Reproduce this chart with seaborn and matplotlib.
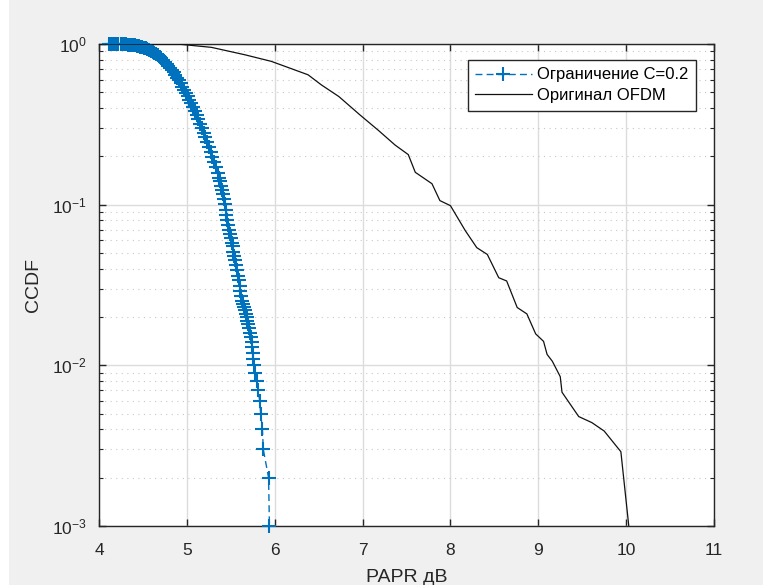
import numpy as np
import pandas as pd
import matplotlib
matplotlib.use("Agg")
import matplotlib.pyplot as plt
from matplotlib.patches import Rectangle
from matplotlib.ticker import LogLocator, NullFormatter
import seaborn as sns

# ---- data (band centre of the clipped CCDF) ----
clip_papr = [4.11, 4.13, 4.15, 4.17, 4.19, 4.22, 4.25, 4.27, 4.29, 4.31, 4.33, 4.35,
             4.37, 4.39, 4.41, 4.43, 4.45, 4.47, 4.49, 4.51, 4.53, 4.55, 4.57, 4.59,
             4.61, 4.63, 4.65, 4.67, 4.69, 4.71, 4.73, 4.75, 4.77, 4.79, 4.81, 4.83,
             4.85, 4.87, 4.89, 4.91, 4.93, 4.95, 4.97, 4.99, 5.01, 5.03, 5.05, 5.07,
             5.09, 5.11, 5.13, 5.15, 5.17, 5.19, 5.21, 5.23, 5.25, 5.27, 5.29, 5.31,
             5.33, 5.35, 5.37, 5.38, 5.39, 5.40, 5.41, 5.42, 5.43, 5.44, 5.45, 5.46,
             5.47, 5.48, 5.49, 5.50, 5.51, 5.52, 5.53, 5.54, 5.55, 5.56, 5.57, 5.58,
             5.59, 5.60, 5.61, 5.62, 5.63, 5.64, 5.65, 5.66, 5.67, 5.68, 5.69, 5.70,
             5.71, 5.72, 5.73, 5.74, 5.74, 5.75, 5.75, 5.76, 5.78, 5.80, 5.81, 5.83,
             5.84, 5.86, 5.87, 5.93, 5.94]
clip_ccdf = [1.000, 0.9995, 0.999, 0.9985, 0.998, 0.997, 0.996, 0.995, 0.994, 0.993, 0.991, 0.989,
             0.986, 0.983, 0.979, 0.975, 0.970, 0.964, 0.957, 0.949, 0.940, 0.930, 0.919, 0.907,
             0.894, 0.880, 0.865, 0.849, 0.832, 0.814, 0.795, 0.775, 0.755, 0.733, 0.711, 0.688,
             0.665, 0.641, 0.617, 0.593, 0.568, 0.543, 0.518, 0.496, 0.473, 0.450, 0.427, 0.404,
             0.382, 0.360, 0.339, 0.318, 0.298, 0.280, 0.262, 0.245, 0.229, 0.213, 0.198, 0.184,
             0.171, 0.158, 0.146, 0.140, 0.131, 0.123, 0.116, 0.109, 0.101, 0.093, 0.086, 0.080,
             0.075, 0.070, 0.066, 0.062, 0.058, 0.055, 0.051, 0.048, 0.045, 0.042, 0.039, 0.036,
             0.034, 0.031, 0.029, 0.027, 0.025, 0.024, 0.023, 0.022, 0.021, 0.020, 0.019, 0.018,
             0.017, 0.016, 0.015, 0.014, 0.013, 0.012, 0.011, 0.010, 0.009, 0.008, 0.007, 0.006,
             0.005, 0.004, 0.003, 0.002, 0.001]

orig_papr = [4.0, 4.90, 5.28, 5.66, 5.96, 6.15, 6.38, 6.53, 6.73, 6.97, 7.18, 7.37,
             7.52, 7.60, 7.79, 7.88, 8.00, 8.17, 8.30, 8.42, 8.55, 8.64, 8.76, 8.87,
             8.97, 9.06, 9.10, 9.16, 9.25, 9.27, 9.46, 9.61, 9.75, 9.94, 10.03]
orig_ccdf = [1.0, 0.999, 0.953, 0.857, 0.78, 0.715, 0.643, 0.557, 0.471, 0.362, 0.29, 0.235,
             0.205, 0.159, 0.135, 0.106, 0.0986, 0.0688, 0.054, 0.049, 0.0351, 0.0335, 0.0229, 0.0209,
             0.0157, 0.0141, 0.0117, 0.0106, 0.0085, 0.0068, 0.0048, 0.0044, 0.0039, 0.0029, 0.001]

lab_clip = "Ограничение C=0.2"
lab_orig = "Оригинал OFDM"
xticks = [4, 5, 6, 7, 8, 9, 10, 11]

df_clip = pd.DataFrame({"x": clip_papr, "y": clip_ccdf})
df_orig = pd.DataFrame({"x": orig_papr, "y": orig_ccdf})

plt.rcParams["font.family"] = ["Liberation Sans", "DejaVu Sans"]
plt.rcParams["mathtext.default"] = "regular"

fig = plt.figure(figsize=(7.63, 5.85), dpi=100, facecolor="#f0f0f0")
fig.patches.append(Rectangle((0, 0), 9 / 763, 1, transform=fig.transFigure,
                             facecolor="white", edgecolor="none", zorder=-10))
ax = fig.add_axes([99 / 763, 1 - 526 / 585, (714 - 99) / 763, (526 - 44) / 585])
ax.set_facecolor("white")

blue = "#0072BD"
sns.lineplot(data=df_clip, x="x", y="y", ax=ax, sort=False, estimator=None,
             color=blue, linestyle=(0, (5, 3)), marker="+", markersize=10.5,
             markeredgewidth=1.5, markeredgecolor=blue, markerfacecolor=blue,
             linewidth=1.0, label=lab_clip, clip_on=False, zorder=3)
sns.lineplot(data=df_orig, x="x", y="y", ax=ax, sort=False, estimator=None,
             color="#111111", linewidth=0.9, label=lab_orig, zorder=4)

ax.set_yscale("log")
ax.set_xlim(4, 11)
ax.set_ylim(1e-3, 1)
ax.set_xticks(xticks)
ax.set_xticklabels([str(t) for t in xticks])
ax.yaxis.set_major_locator(LogLocator(base=10, numticks=10))
ax.yaxis.set_minor_locator(LogLocator(base=10, subs=np.arange(2, 10), numticks=20))
ax.yaxis.set_minor_formatter(NullFormatter())

ax.grid(True, which="major", axis="both", color="#dcdcdc", linewidth=1.0, linestyle="-")
ax.grid(True, which="minor", axis="y", color="#c8c8c8", linewidth=0.8, linestyle=(0, (1, 4)))
ax.set_axisbelow(True)

axc = "#262626"
for s in ax.spines.values():
    s.set_color(axc)
    s.set_linewidth(1.0)
    s.set_zorder(2.5)
ax.tick_params(which="both", direction="in", top=True, right=True, colors=axc,
               labelcolor=axc, labelsize=12.5)
ax.tick_params(axis="x", which="major", length=5, width=1.0, pad=12)
ax.tick_params(axis="y", which="major", length=5, width=1.0, pad=9)
ax.tick_params(which="minor", length=3, width=0.8)

ax.set_xlabel("PAPR дВ", fontsize=14, color=axc, labelpad=8)
ax.set_ylabel("CCDF", fontsize=14, color=axc, labelpad=7)

leg = ax.legend(loc="upper right", bbox_to_anchor=(0.97, 0.967), borderaxespad=0,
                fontsize=12, frameon=True, fancybox=False, edgecolor=axc, framealpha=1,
                handlelength=3.4, borderpad=0.45, labelspacing=0.35, handletextpad=0.3)
leg.get_frame().set_linewidth(1.0)

fig.savefig("out.png", dpi=100, facecolor=fig.get_facecolor())
